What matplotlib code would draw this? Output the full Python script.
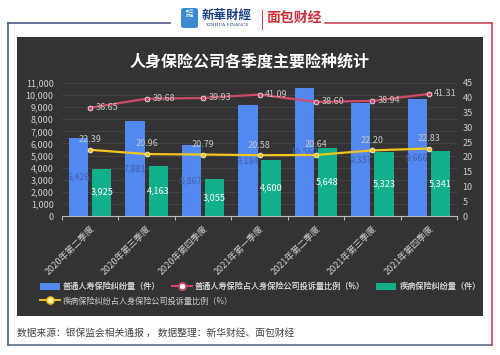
import matplotlib
matplotlib.use("Agg")
import matplotlib.pyplot as plt
from matplotlib.patches import Rectangle, FancyBboxPatch
from matplotlib.lines import Line2D
import numpy as np

plt.rcParams['font.family'] = ['Noto Sans CJK SC', 'DejaVu Sans']

categories = ["2020年第二季度", "2020年第三季度", "2020年第四季度", "2021年第一季度",
              "2021年第二季度", "2021年第三季度", "2021年第四季度"]
life_disputes = [6426, 7881, 5867, 9184, 10560, 9337, 9666]
life_ratio = [36.65, 39.68, 39.93, 41.09, 38.60, 38.94, 41.31]
disease_disputes = [3925, 4163, 3055, 4600, 5648, 5323, 5341]
disease_ratio = [22.39, 20.96, 20.79, 20.58, 20.64, 22.20, 22.83]
left_ticks = list(range(0, 11001, 1000))
right_ticks = list(range(0, 46, 5))
legend_labels = ["普通人寿保险纠纷量（件）", "普通人寿保险占人身保险公司投诉量比例（%）",
                 "疾病保险纠纷量（件）", "疾病保险纠纷占人身保险公司投诉量比例（%）"]
title = "人身保险公司各季度主要险种统计"
source = "数据来源：银保监会相关通报 ， 数据整理：新华财经、面包财经"

BLUE = '#5288F0'
GREEN = '#12B08A'
RED = '#D24A6A'
YELLOW = '#F2C41C'
PANEL = '#333333'
TXT = '#CFCFCF'

W, H = 500, 355
fig = plt.figure(figsize=(5, 3.55), dpi=100)
fig.patch.set_facecolor('white')

def fx(x): return x / W
def fy(y): return 1 - y / H

# frame lines
fig.add_artist(Line2D([fx(8), fx(170)], [fy(23), fy(23)], color='#4a5a8a', lw=1.2))
fig.add_artist(Line2D([fx(8), fx(8)], [fy(23), fy(345)], color='#4a5a8a', lw=1.2))
fig.add_artist(Line2D([fx(8), fx(492)], [fy(345), fy(345)], color='#5a7090', lw=1.2))
fig.add_artist(Line2D([fx(325), fx(492)], [fy(23), fy(23)], color='#c8485a', lw=1.2))
fig.add_artist(Line2D([fx(492), fx(492)], [fy(23), fy(345)], color='#c8485a', lw=1.2))

# logos
fig.add_artist(FancyBboxPatch((fx(181), fy(28)), fx(17), 20 / H,
                              boxstyle="round,pad=0,rounding_size=0.006",
                              fc='#3c8ad0', ec='none'))
fig.text(fx(189.5), fy(14), "新华\n财经", color='white', fontsize=3, ha='center', va='center',
         linespacing=0.9)
fig.text(fx(227), fy(15.5), "新華財經", color='#1c3f8a', fontsize=9, ha='center', va='center',
         style='italic', fontweight='bold')
fig.text(fx(227), fy(25.5), "XINHUA FINANCE", color='#1c3f8a', fontsize=3.2, ha='center',
         va='center', family='DejaVu Serif')
fig.add_artist(Line2D([fx(262), fx(262)], [fy(10), fy(29)], color='#c8485a', lw=0.8))
fig.text(fx(294), fy(18), "面包财经", color='#d0303a', fontsize=10, ha='center', va='center',
         fontweight='bold')

# dark panel
fig.add_artist(Rectangle((fx(17), fy(316)), fx(483 - 17), (316 - 37) / H,
                         transform=fig.transFigure, fc=PANEL, ec='none', zorder=0))
fig.text(fx(250), fy(62), title, color='white', fontsize=11.5, fontweight='bold',
         ha='center', va='center')

ax = fig.add_axes([fx(62), fy(216), fx(457 - 62), (216 - 83) / H])
ax.set_facecolor('none')
ax2 = ax.twinx()

x = np.arange(len(categories))
bw = 0.34
gap = 0.035
b1 = ax.bar(x - bw / 2 - gap, life_disputes, bw, color=BLUE, zorder=2)
b2 = ax.bar(x + bw / 2 + gap, disease_disputes, bw, color=GREEN, zorder=2)
for rect, v in zip(b1, life_disputes):
    ax.text(rect.get_x() + rect.get_width() / 2, v / 2, f"{v:,}", color='#3f62ad',
            fontsize=6.5, ha='center', va='center', zorder=3)
for rect, v in zip(b2, disease_disputes):
    ax.text(rect.get_x() + rect.get_width() / 2, v / 2, f"{v:,}", color='white',
            fontsize=6.5, ha='center', va='center', zorder=3)

ax.set_xlim(-0.5, len(categories) - 0.5)
ax.set_ylim(0, 11000)
ax.set_yticks(left_ticks)
ax.set_yticklabels([f"{t:,}" for t in left_ticks])
ax.tick_params(axis='y', colors=TXT, labelsize=6.5, length=0, pad=6)
ax.grid(axis='y', color='#454545', lw=0.6, zorder=0)
ax.set_axisbelow(True)

ax.set_xticks(np.arange(-0.5, len(categories), 1.0))
ax.set_xticklabels([])
ax.tick_params(axis='x', which='major', colors='#bbbbbb', length=3, width=0.8, direction='out')
ax.set_xticks(x, minor=True)
ax.set_xticklabels(categories, minor=True, rotation=45, ha='right', rotation_mode='anchor',
                   fontsize=6.5, color=TXT)
ax.tick_params(axis='x', which='minor', length=0, pad=6)

for sp in ['top', 'left', 'right']:
    ax.spines[sp].set_visible(False)
    ax2.spines[sp].set_visible(False)
ax.spines['bottom'].set_color('#bbbbbb')
ax2.spines['bottom'].set_visible(False)

ax2.set_ylim(0, 45)
ax2.set_yticks(right_ticks)
ax2.tick_params(axis='y', colors=TXT, labelsize=6.5, length=0, pad=4)

ax2.plot(x, life_ratio, color=RED, lw=1.6, marker='o', ms=3.5, mfc=RED, mec='white', mew=0.5,
         zorder=4)
ax2.plot(x, disease_ratio, color=YELLOW, lw=1.6, marker='o', ms=3.5, mfc=YELLOW, mec='white',
         mew=0.5, zorder=4)
for xi, v in zip(x, life_ratio):
    ax2.annotate(f"{v:.2f}", (xi, v), xytext=(4, 0), textcoords='offset points',
                 color='#c8c8c8', fontsize=6.5, ha='left', va='center', zorder=5)
for xi, v in zip(x, disease_ratio):
    ax2.annotate(f"{v:.2f}", (xi, v), xytext=(0, 4), textcoords='offset points',
                 color='#c8c8c8', fontsize=6.5, ha='center', va='bottom', zorder=5)

# legends
h_blue = Rectangle((0, 0), 1, 1, fc=BLUE, ec='none')
h_red = Line2D([], [], color=RED, lw=1.4, marker='o', ms=5, mfc='white', mec=RED, mew=1.2)
h_green = Rectangle((0, 0), 1, 1, fc=GREEN, ec='none')
h_yellow = Line2D([], [], color=YELLOW, lw=1.4, marker='o', ms=5, mfc='#fff6a0', mec=YELLOW,
                  mew=1.2)
leg1 = fig.legend([h_blue, h_red, h_green], legend_labels[:3], loc='center left',
                  bbox_to_anchor=(fx(40), fy(286.5)), ncol=3, frameon=False, fontsize=5.9,
                  labelcolor=TXT, handlelength=2.4, handleheight=1.0, columnspacing=1.4,
                  handletextpad=0.4, borderpad=0, borderaxespad=0)
leg2 = fig.legend([h_yellow], legend_labels[3:], loc='center left',
                  bbox_to_anchor=(fx(40), fy(301)), ncol=1, frameon=False, fontsize=5.9,
                  labelcolor=TXT, handlelength=2.4, handleheight=1.0,
                  handletextpad=0.4, borderpad=0, borderaxespad=0)
fig.add_artist(leg1)

fig.text(fx(17), fy(333), source, color='#444444', fontsize=7, ha='left', va='center')

fig.savefig('out.png', dpi=100, facecolor='white')
